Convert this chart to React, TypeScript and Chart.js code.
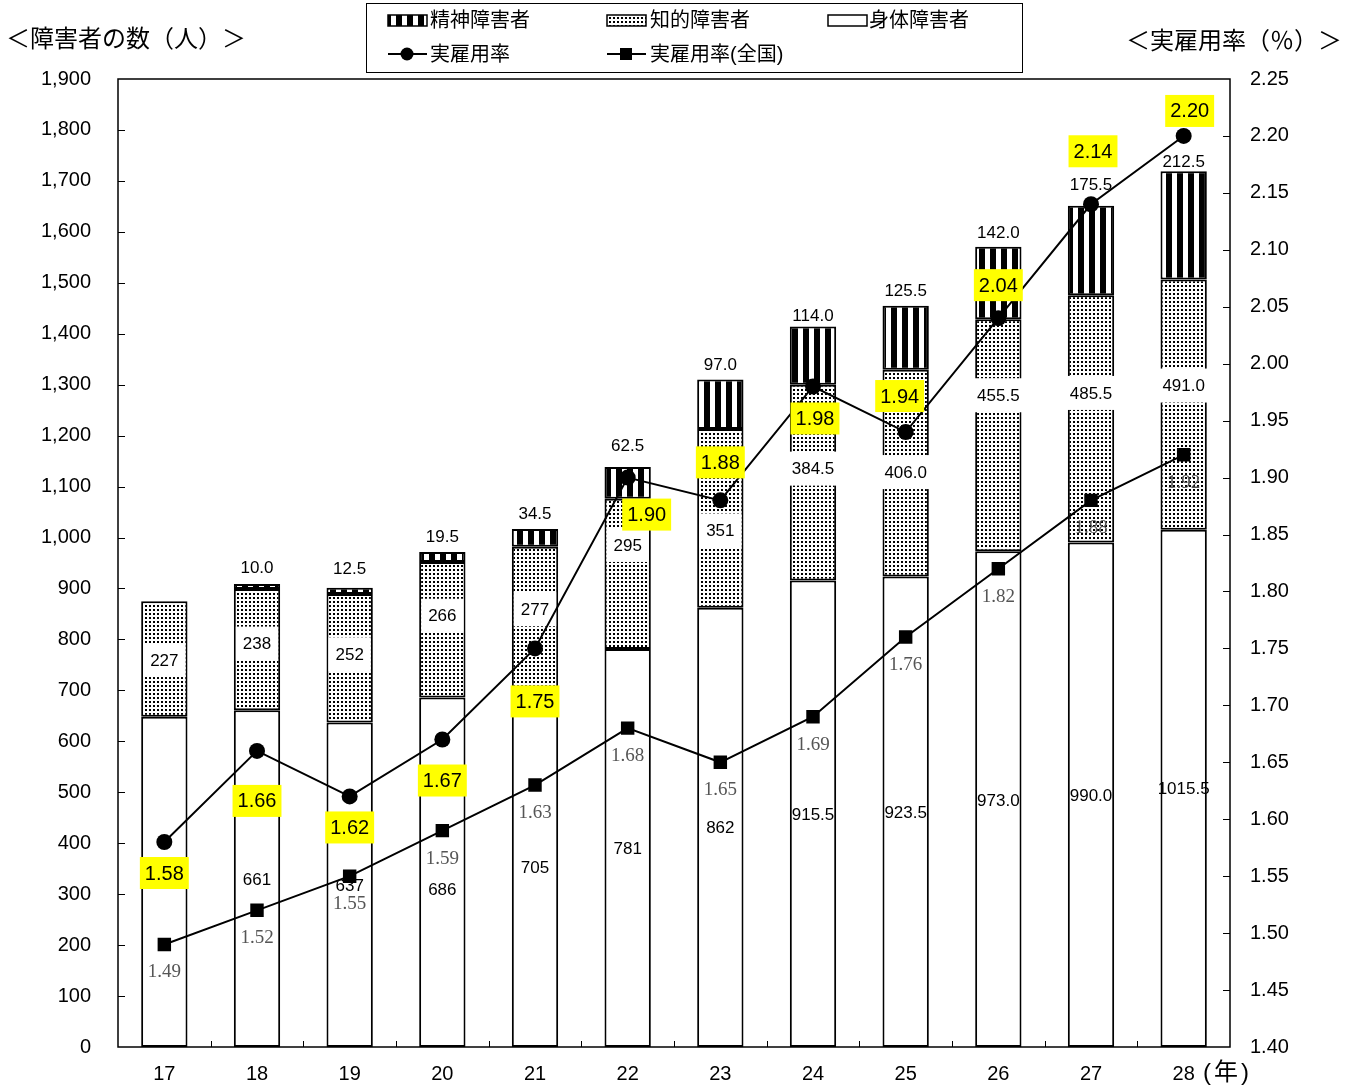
import React, { useEffect, useRef } from "react";
import { Chart, registerables } from "chart.js";
Chart.register(...registerables);

// ---- data ----
const years = ["17", "18", "19", "20", "21", "22", "23", "24", "25", "26", "27", "28"];
const physical = [648, 661, 637, 686, 705, 781, 862, 915.5, 923.5, 973, 990, 1015.5];
const intellectual = [227, 238, 252, 266, 277, 295, 351, 384.5, 406, 455.5, 485.5, 491];
const mental = [0, 10, 12.5, 19.5, 34.5, 62.5, 97, 114, 125.5, 142, 175.5, 212.5];
const rate = [1.58, 1.66, 1.62, 1.67, 1.75, 1.9, 1.88, 1.98, 1.94, 2.04, 2.14, 2.2];
const rateNational = [1.49, 1.52, 1.55, 1.59, 1.63, 1.68, 1.65, 1.69, 1.76, 1.82, 1.88, 1.92];
const leftMin = 0, leftMax = 1900, leftStep = 100;
const rightMin = 1.4, rightMax = 2.25, rightStep = 0.05;

// ---- layout: label offsets (px) ----
const rateLabelOffsets: [number, number][] = [
  [0, 31], [0, 50], [0, 31], [0, 41], [0, 53], [19, 37],
  [0, -38], [2, 32], [-6, -36], [0, -33], [2, -53], [6, -25],
];
const physLabelDy = [0, 1, 1, 17, 0, 0, 0, 1, 1, 1, 1, 0];
const intelLabelDy = [1, -6, -4, -14, -8, -29, 12, -14, -1, -40, -26, -19];
const mentalLabelDy = [0, -4, -7, -3, -3, -9, -3, 1, -3, -2, -9, 3];

const SANS = '"Liberation Sans", "Noto Sans CJK JP", sans-serif';
const SERIF = '"Liberation Serif", serif';

function makeDots(): CanvasPattern | string {
  const c = document.createElement("canvas");
  c.width = 4; c.height = 4;
  const x = c.getContext("2d")!;
  x.fillStyle = "#fff"; x.fillRect(0, 0, 4, 4);
  x.fillStyle = "#000"; x.fillRect(1, 1, 2, 2);
  return x.createPattern(c, "repeat") || "#888";
}
function makeStripes(): CanvasPattern | string {
  const c = document.createElement("canvas");
  c.width = 11; c.height = 2;
  const x = c.getContext("2d")!;
  x.fillStyle = "#fff"; x.fillRect(0, 0, 11, 2);
  x.fillStyle = "#000"; x.fillRect(0, 0, 6, 2);
  return x.createPattern(c, "repeat") || "#000";
}

const fmtSeg = (v: number, i: number) => (i >= 7 ? v.toFixed(1) : String(v));

function boxedText(ctx: CanvasRenderingContext2D, text: string, x: number, y: number, bg: string | null, font: string, padX: number, h: number, color = "#000") {
  ctx.font = font;
  const w = ctx.measureText(text).width + padX * 2;
  if (bg) {
    ctx.fillStyle = bg;
    ctx.fillRect(x - w / 2, y - h / 2, w, h);
  }
  ctx.fillStyle = color;
  ctx.textAlign = "center";
  ctx.textBaseline = "middle";
  ctx.fillText(text, x, y + 1);
}

export default function App() {
  const ref = useRef<HTMLCanvasElement>(null);
  useEffect(() => {
    const dots = makeDots();
    const stripes = makeStripes();
    const plugin = {
      id: "custom",
      afterDatasetDraw(chart: any, args: any) {
        if (args.index !== 0) return;
        const ctx: CanvasRenderingContext2D = chart.ctx;
        ctx.save();
        const f = `17px ${SANS}`;
        const pm = chart.getDatasetMeta(0).data;
        const im = chart.getDatasetMeta(1).data;
        const mm = chart.getDatasetMeta(2).data;
        years.forEach((_, i) => {
          const p = pm[i];
          boxedText(ctx, fmtSeg(physical[i], i), p.x, (p.y + p.base) / 2 + physLabelDy[i], null, f, 4, 30);
          const q = im[i];
          boxedText(ctx, fmtSeg(intellectual[i], i), q.x, (q.y + q.base) / 2 + intelLabelDy[i], "#fff", f, 7, 34);
          if (mental[i] > 0) {
            const m = mm[i];
            ctx.font = f;
            ctx.fillStyle = "#000";
            ctx.textAlign = "center";
            ctx.textBaseline = "bottom";
            ctx.fillText(mental[i].toFixed(1), m.x, m.y - 3 + mentalLabelDy[i]);
          }
        });
        ctx.restore();
      },
      afterDatasetsDraw(chart: any) {
        const ctx: CanvasRenderingContext2D = chart.ctx;
        const a = chart.chartArea;
        ctx.save();
        // frame
        ctx.strokeStyle = "#000";
        ctx.lineWidth = 1.5;
        ctx.strokeRect(a.left, a.top, a.right - a.left, a.bottom - a.top);
        // inward ticks
        ctx.lineWidth = 1;
        ctx.beginPath();
        const yL = chart.scales.y, yR = chart.scales.y1;
        for (let v = leftMin + leftStep; v < leftMax; v += leftStep) {
          const py = Math.round(yL.getPixelForValue(v)) + 0.5;
          ctx.moveTo(a.left, py); ctx.lineTo(a.left + 7, py);
        }
        for (let k = 1; k < Math.round((rightMax - rightMin) / rightStep); k++) {
          const py = Math.round(yR.getPixelForValue(rightMin + k * rightStep)) + 0.5;
          ctx.moveTo(a.right, py); ctx.lineTo(a.right - 7, py);
        }
        const cw = (a.right - a.left) / years.length;
        for (let k = 1; k < years.length; k++) {
          const px = Math.round(a.left + k * cw) + 0.5;
          ctx.moveTo(px, a.bottom); ctx.lineTo(px, a.bottom - 6);
        }
        ctx.stroke();
        // national labels
        const nm = chart.getDatasetMeta(4).data;
        ctx.font = `19px ${SERIF}`;
        ctx.fillStyle = "#555";
        ctx.textAlign = "center";
        ctx.textBaseline = "middle";
        nm.forEach((pt: any, i: number) => {
          ctx.fillText(rateNational[i].toFixed(2), pt.x, pt.y + 28);
        });
        // rate labels
        const rm = chart.getDatasetMeta(3).data;
        rm.forEach((pt: any, i: number) => {
          const [dx, dy] = rateLabelOffsets[i];
          boxedText(ctx, rate[i].toFixed(2), pt.x + dx, pt.y + dy, "#ffff00", `20px ${SANS}`, 5, 32);
        });
        // x unit
        ctx.font = `24px ${SANS}`;
        ctx.fillStyle = "#000";
        ctx.textAlign = "left";
        ctx.textBaseline = "middle";
        (ctx as any).letterSpacing = "3px";
        ctx.fillText("(年)", 1203, 1073);
        (ctx as any).letterSpacing = "0px";
        ctx.restore();
      },
      afterDraw(chart: any) {
        const ctx: CanvasRenderingContext2D = chart.ctx;
        ctx.save();
        ctx.fillStyle = "#000";
        ctx.textBaseline = "middle";
        ctx.textAlign = "left";
        ctx.font = `24px ${SANS}`;
        ctx.fillText("＜障害者の数（人）＞", 6, 40);
        ctx.fillText("＜実雇用率（％）＞", 1126, 42);
        // legend
        ctx.strokeStyle = "#000";
        ctx.lineWidth = 1;
        ctx.strokeRect(366.5, 3.5, 656, 69);
        ctx.font = `20px ${SANS}`;
        const sw = (x: number, fill: any) => {
          ctx.fillStyle = fill;
          ctx.fillRect(x, 15, 39, 11);
          ctx.lineWidth = 1.5;
          ctx.strokeRect(x, 15, 39, 11);
        };
        sw(388, stripes);
        sw(607, dots);
        sw(828, "#fff");
        ctx.fillStyle = "#000";
        ctx.fillText("精神障害者", 430, 21);
        ctx.fillText("知的障害者", 650, 21);
        ctx.fillText("身体障害者", 869, 21);
        ctx.lineWidth = 2;
        ctx.beginPath();
        ctx.moveTo(388, 54); ctx.lineTo(427, 54);
        ctx.moveTo(607, 54); ctx.lineTo(646, 54);
        ctx.stroke();
        ctx.beginPath();
        ctx.arc(407, 54, 6.5, 0, Math.PI * 2);
        ctx.fill();
        ctx.fillRect(620, 48, 12, 12);
        ctx.fillText("実雇用率", 430, 55);
        ctx.fillText("実雇用率(全国)", 650, 55);
        ctx.restore();
      },
    };

    const barCommon = { type: "bar", borderColor: "#000", borderWidth: 2, borderSkipped: false, stack: "s", order: 2, yAxisID: "y", barPercentage: 0.5, categoryPercentage: 1 };
    const chart = new Chart(ref.current!, {
      type: "bar",
      data: {
        labels: years,
        datasets: [
          { ...barCommon, label: "身体障害者", data: physical, backgroundColor: "#fff" } as any,
          { ...barCommon, label: "知的障害者", data: intellectual, backgroundColor: dots } as any,
          { ...barCommon, label: "精神障害者", data: mental, backgroundColor: stripes } as any,
          { type: "line", label: "実雇用率", data: rate, borderColor: "#000", borderWidth: 2, backgroundColor: "#000", pointStyle: "circle", pointRadius: 8, pointBackgroundColor: "#000", pointBorderWidth: 0, fill: false, tension: 0, order: 1, yAxisID: "y1" } as any,
          { type: "line", label: "実雇用率(全国)", data: rateNational, borderColor: "#000", borderWidth: 2, backgroundColor: "#000", pointStyle: "rect", pointRadius: 9.5, pointBackgroundColor: "#000", pointBorderWidth: 0, fill: false, tension: 0, order: 1, yAxisID: "y1" } as any,
        ],
      },
      options: {
        responsive: false,
        animation: false,
        devicePixelRatio: 1,
        layout: { padding: { top: 79, left: 0, right: 0, bottom: 0 } },
        plugins: { legend: { display: false }, tooltip: { enabled: false } },
        scales: {
          x: {
            stacked: true,
            offset: true,
            grid: { display: false, drawTicks: false },
            border: { display: false },
            ticks: { color: "#000", font: { family: SANS, size: 20 }, padding: 15, maxRotation: 0 },
            afterFit: (s: any) => { s.height = 42; },
          },
          y: {
            position: "left",
            stacked: true,
            min: leftMin,
            max: leftMax,
            grid: { display: false, drawTicks: false },
            border: { display: false },
            ticks: { stepSize: leftStep, color: "#000", font: { family: SANS, size: 20 }, padding: 27, callback: (v: any) => Number(v).toLocaleString("en-US") },
            afterFit: (s: any) => { s.width = 118; },
          },
          y1: {
            position: "right",
            min: rightMin,
            max: rightMax,
            grid: { display: false, drawTicks: false },
            border: { display: false },
            ticks: { stepSize: rightStep, color: "#000", font: { family: SANS, size: 20 }, padding: 20, callback: (v: any) => Number(v).toFixed(2) },
            afterFit: (s: any) => { s.width = 124; },
          },
        },
      } as any,
      plugins: [plugin],
    });
    return () => chart.destroy();
  }, []);
  return (
    <div style={{ position: "absolute", left: 0, top: 0, width: 1354, height: 1089, background: "#fff" }}>
      <canvas ref={ref} width={1354} height={1089} style={{ display: "block" }} />
    </div>
  );
}
